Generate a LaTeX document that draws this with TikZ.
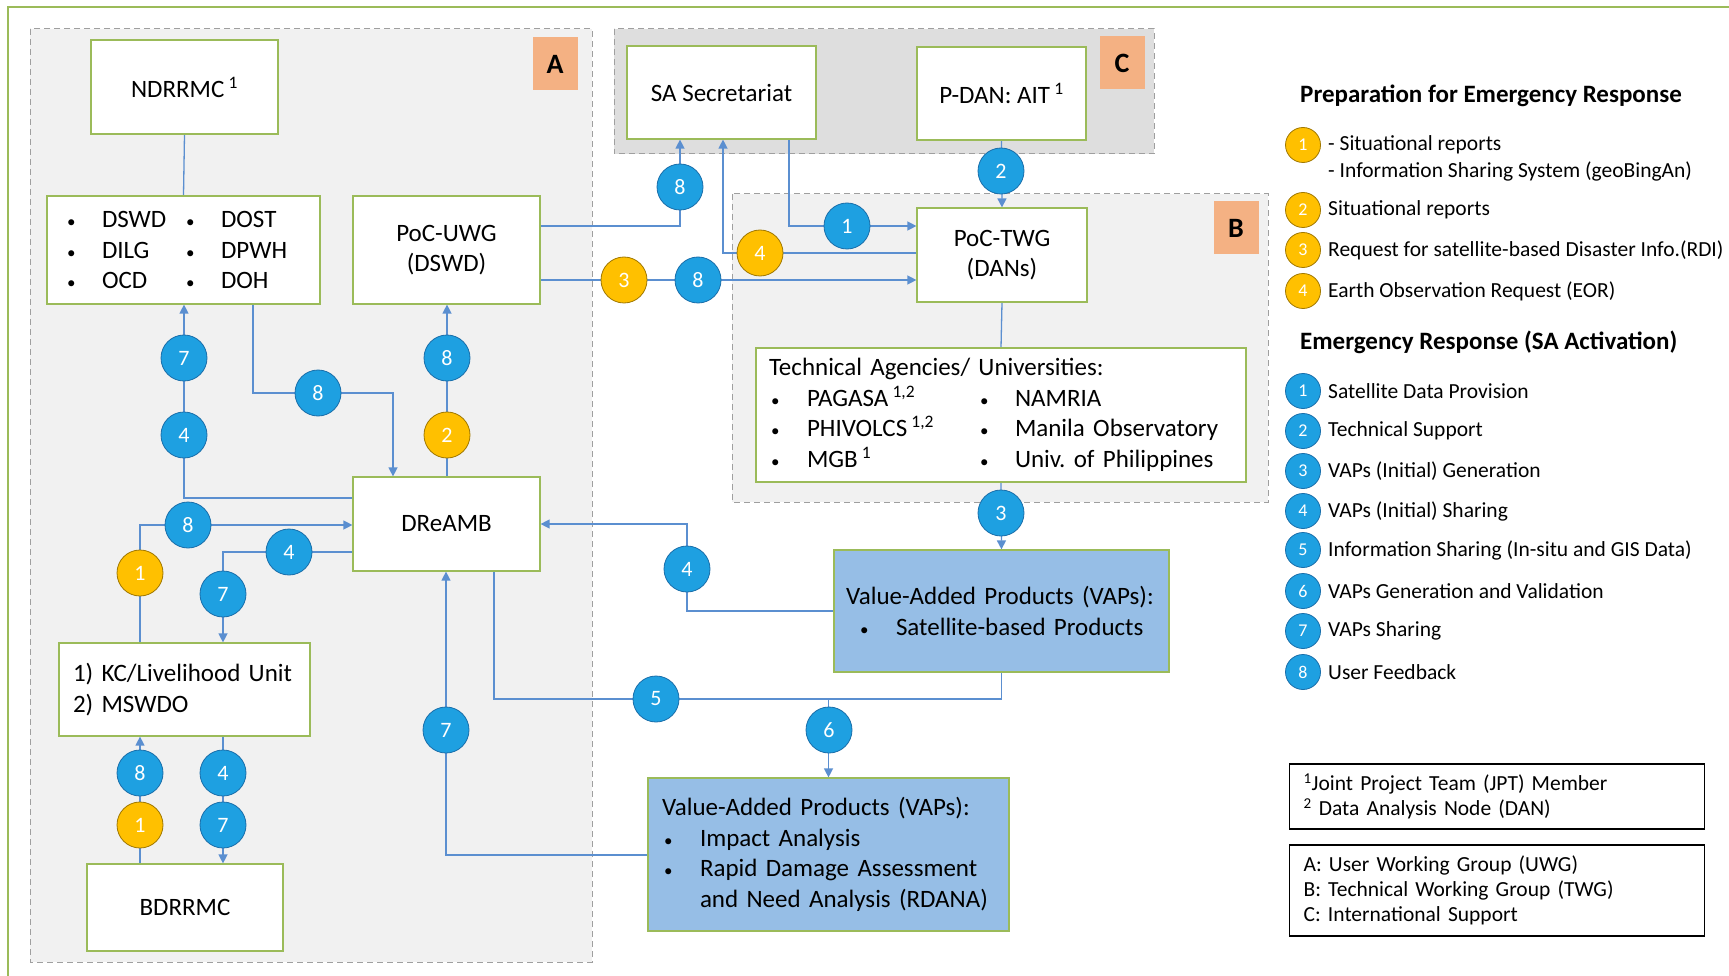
\documentclass[tikz,border=0pt]{standalone}
\usepackage{fontspec}
\setmainfont{Carlito}
\usetikzlibrary{arrows.meta}
\pgfdeclarelayer{regions}
\pgfdeclarelayer{links}
\pgfsetlayers{regions,links,main}
\definecolor{boxgreen}{RGB}{155,187,89}
\definecolor{linkblue}{RGB}{91,143,208}
\definecolor{dotblue}{RGB}{30,160,225}
\definecolor{dotblueline}{RGB}{25,110,170}
\definecolor{dotorange}{RGB}{255,192,0}
\definecolor{dotorangeline}{RGB}{160,120,0}
\definecolor{vapblue}{RGB}{150,190,230}
\definecolor{tagorange}{RGB}{244,177,131}
\definecolor{regiongray}{RGB}{241,241,241}
\definecolor{regiondark}{RGB}{222,222,222}
\newcommand\diagboxfont{\fontsize{25}{30.5}\selectfont}
\newcommand\diaglegfont{\fontsize{21.5}{27}\selectfont}
\newcommand\diagtitlefont{\fontsize{25}{30}\selectfont\bfseries}
\newcommand\bul[1]{\makebox[#1][l]{\hspace*{2pt}{\fontsize{17}{17}\selectfont\textbullet}}}
\frenchspacing

\begin{document}
\begin{tikzpicture}[x=1pt, y=-1pt,
	box/.style={draw=boxgreen, line width=1.2pt, fill=white, inner sep=0pt, align=center, font=\diagboxfont},
	vap/.style={box, fill=vapblue},
	dot/.style={circle, minimum size=46pt, inner sep=0pt, fill=dotblue, draw=dotblueline, line width=0.8pt, text=white, font=\fontsize{22}{22}\selectfont},
	odot/.style={dot, fill=dotorange, draw=dotorangeline},
	lbdot/.style={dot, minimum size=35pt, font=\fontsize{18}{18}\selectfont},
	lodot/.style={odot, minimum size=35pt, font=\fontsize{18}{18}\selectfont},
	link/.style={draw=linkblue, line width=1.3pt},
	arr/.style={link, -{Triangle[length=9pt,width=9pt]}},
	region/.style={draw=gray!75, dash pattern=on 6pt off 4pt, line width=1pt},
	tag/.style={fill=tagorange, minimum width=45pt, minimum height=53pt, inner sep=0pt, font=\fontsize{28}{28}\selectfont\bfseries},
	legtext/.style={anchor=west, inner sep=0pt, font=\diaglegfont},
	legbox/.style={draw=black, line width=1.2pt, align=left, anchor=west, inner xsep=14pt, inner ysep=0pt, font=\fontsize{21.5}{25}\selectfont}]

\useasboundingbox (0,0) rectangle (1729,976);

\begin{pgfonlayer}{regions}
\fill[white] (0,0) rectangle (1729,976);
\draw[region, fill=regiongray] (30,29) rectangle (592,962);
\draw[region, fill=regiondark] (614,29) rectangle (1154,154);
\draw[region, fill=regiongray] (732,194) rectangle (1268,502);
\draw[boxgreen, line width=1.5pt] (8,976) -- (8,7) -- (1729,7);
\end{pgfonlayer}

\node[tag] (tagA) at (555,64) {A};
\node[tag] (tagC) at (1122,63) {C};
\node[tag] (tagB) at (1236,228) {B};

\node[box, minimum width=187pt, minimum height=94pt] (ndrrmc) at (184.5,87) {NDRRMC\,\textsuperscript{1}};
\node[box, align=left, text width=237pt, inner xsep=18pt, minimum height=108pt] (list) at (183.5,250)
	{\bul{37pt}\makebox[82pt][l]{DSWD}\bul{37pt}DOST\\
	 \bul{37pt}\makebox[82pt][l]{DILG}\bul{37pt}DPWH\\
	 \bul{37pt}\makebox[82pt][l]{OCD}\bul{37pt}DOH};
\node[box, minimum width=187pt, minimum height=108pt] (uwg) at (446.5,250) {PoC-UWG\\(DSWD)};
\node[box, minimum width=187pt, minimum height=94pt] (dreamb) at (446.5,524) {DReAMB};
\node[box, align=left, text width=223pt, inner xsep=14pt, minimum height=93pt] (kc) at (184.5,689.5)
	{1) KC/Livelihood Unit\\2) MSWDO};
\node[box, minimum width=196pt, minimum height=87pt] (bdrrmc) at (185,907.5) {BDRRMC};
\node[box, minimum width=189pt, minimum height=93pt] (sasec) at (721.5,92.5) {SA Secretariat};
\node[box, minimum width=169pt, minimum height=93pt] (pdan) at (1001.5,93.5) {P-DAN: AIT\,\textsuperscript{1}};
\node[box, minimum width=170pt, minimum height=94pt] (twg) at (1002,255) {PoC-TWG\\(DANs)};
\node[box, align=left, text width=464pt, inner xsep=13pt, minimum height=134pt] (tech) at (1001,415)
	{Technical Agencies/ Universities:\\
	 \bul{38pt}\makebox[171pt][l]{PAGASA\,\textsuperscript{1,2}}\bul{37pt}NAMRIA\\
	 \bul{38pt}\makebox[171pt][l]{PHIVOLCS\,\textsuperscript{1,2}}\bul{37pt}Manila Observatory\\
	 \bul{38pt}\makebox[171pt][l]{MGB\,\textsuperscript{1}}\bul{37pt}Univ. of Philippines};
\node[vap, align=left, text width=311pt, inner xsep=12pt, minimum height=122pt] (vap1) at (1001.5,611)
	{\mbox{Value-Added Products (VAPs):}\\
	 \hspace*{12pt}\bul{38pt}Satellite-based Products};
\node[vap, align=left, text width=333pt, inner xsep=14pt, minimum height=153pt] (vap2) at (828.5,854.5)
	{Value-Added Products (VAPs):\\
	 \bul{38pt}Impact Analysis\\
	 \bul{38pt}Rapid Damage Assessment\\
	 \hspace*{38pt}and Need Analysis (RDANA)};

\foreach \n/\x/\y/\t in {c7a/184/358/7, c4a/184/435/4, c8a/318/393/8, c8b/447/358/8,
	c8c/188/525/8, c4b/289/552/4, c7b/223/594/7, c8d/140/773/8, c4c/223/773/4,
	c7c/223/825/7, c7d/446/730/7, c5/656/699/5, c6/829/730/6, c4d/687/569/4,
	c3b/1001/513/3, c8e/680/187/8, c1b/847/226/1, c8f/698/280/8, c2b/1001/171/2}
	\node[dot] (\n) at (\x,\y) {\t};
\foreach \n/\x/\y/\t in {c2o/447/435/2, c1o/140/573/1, c1p/140/825/1, c4o/760/253/4, c3o/624/280/3}
	\node[odot] (\n) at (\x,\y) {\t};

\begin{pgfonlayer}{links}
\draw[link] (ndrrmc.south) -- (list.north);
\draw[arr] (dreamb.west |- 0,498) -| (c7a |- list.south);
\draw[arr] (list.south -| 253,0) |- (c8a.center) -| (dreamb.north -| 393,0);
\draw[arr] (dreamb.north -| c8b) -- (c8b |- uwg.south);
\draw[arr] (kc.north -| c1o) |- (dreamb.west |- c8c);
\draw[arr] (dreamb.west |- c4b) -| (kc.north -| c7b);
\draw[arr] (bdrrmc.north -| c1p) -- (kc.south -| c1p);
\draw[arr] (kc.south -| c7c) -- (bdrrmc.north -| c7c);
\draw[arr] (vap2.west |- 0,855) -| (c7d |- dreamb.south);
\draw[link] (dreamb.south -| 494,0) |- (c5.center) -| (vap1.south);
\draw[arr] (vap2.north |- c5) -- (vap2.north);
\draw[arr] (tech.south) -- (vap1.north);
\draw[arr] (vap1.west) -| (c4d.center) |- (dreamb.east);
\draw[arr] (uwg.east |- c1b) -| (sasec.south -| c8e);
\draw[arr] (sasec.south -| 789,0) |- (twg.west |- c1b);
\draw[arr] (twg.west |- c4o) -| (sasec.south -| 723,0);
\draw[arr] (uwg.east |- c3o) -- (twg.west |- c3o);
\draw[arr] (pdan.south) -- (twg.north);
\draw[link] (twg.south) -- (tech.north);
\end{pgfonlayer}

\node[legtext, font=\diagtitlefont] (prep) at (1300,96) {Preparation for Emergency Response};
\node[lodot] (lo1) at (1303,145) {1};
\node[legtext, align=left] (lot1) at (1328,158.5) {- Situational reports\\- Information Sharing System (geoBingAn)};
\foreach \n/\y/\t in {2/210/Situational reports, 3/250/Request for satellite-based Disaster Info.(RDI),
	4/291/Earth Observation Request (EOR)}{
	\node[lodot] (lo\n) at (1303,\y) {\n};
	\node[legtext] (lot\n) at (1328,\y) {\t};
}
\node[legtext, font=\diagtitlefont] (resp) at (1300,342) {Emergency Response (SA Activation)};
\foreach \n/\y/\t in {1/391/Satellite Data Provision, 2/431/Technical Support,
	3/471/VAPs (Initial) Generation, 4/511/VAPs (Initial) Sharing,
	5/550/Information Sharing (In-situ and GIS Data), 6/591/VAPs Generation and Validation,
	7/631/VAPs Sharing, 8/672/User Feedback}{
	\node[lbdot] (lb\n) at (1303,\y) {\n};
	\node[legtext] (lbt\n) at (1328,\y) {\t};
}

\node[legbox, text width=387pt, minimum height=65pt] (notes) at (1289,796.5)
	{\textsuperscript{1}Joint Project Team (JPT) Member\\\textsuperscript{2} Data Analysis Node (DAN)};
\node[legbox, text width=387pt, minimum height=91pt] (groups) at (1289,890.5)
	{A: User Working Group (UWG)\\B: Technical Working Group (TWG)\\C: International Support};
\end{tikzpicture}
\end{document}
